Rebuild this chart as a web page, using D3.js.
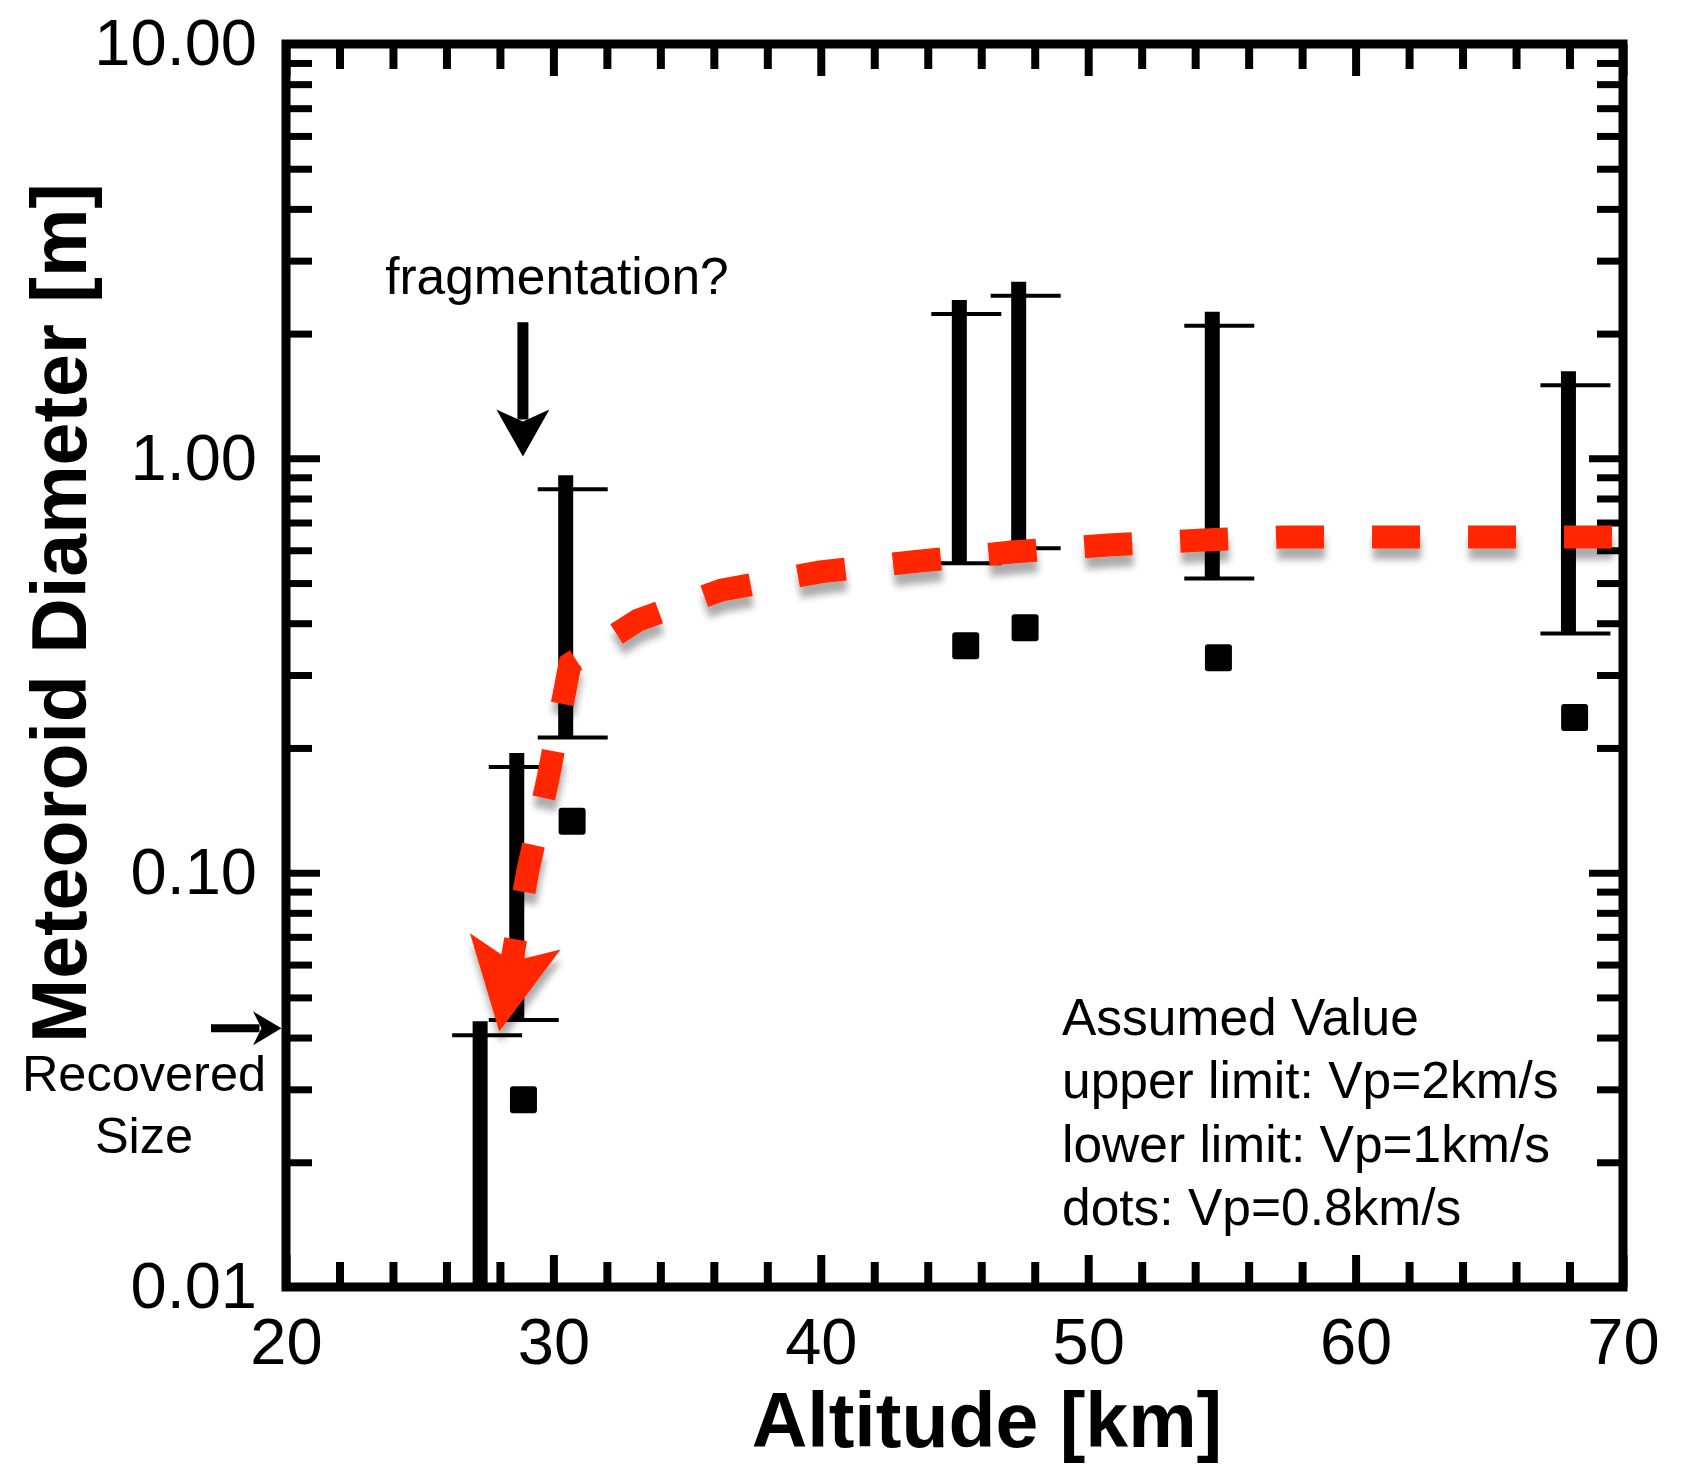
<!DOCTYPE html>
<html>
<head>
<meta charset="utf-8">
<script src="https://cdn.jsdelivr.net/npm/d3@7"></script>
<style>
  html, body { margin: 0; padding: 0; background: #fff; }
  svg { display: block; font-family: "Liberation Sans", Arial, Helvetica, sans-serif; }
</style>
</head>
<body>
<svg id="chart"></svg>
<script>
// Error-bar estimates: altitude [km], upper limit (Vp = 2 km/s) and lower limit (Vp = 1 km/s) [m]
const barAltitude = [27.26, 28.63, 30.46, 45.18, 47.40, 54.64, 67.96];
const upperLimit  = [0.0405, 0.180, 0.842, 2.23, 2.47, 2.09, 1.50];
const lowerLimit  = [0.005, 0.0441, 0.212, 0.558, 0.607, 0.513, 0.378];

// Point estimates for Vp = 0.8 km/s
const dotAltitude = [28.88, 30.70, 45.42, 47.64, 54.87, 68.19];
const dotDiameter = [0.0283, 0.133, 0.353, 0.390, 0.330, 0.237];

// Red dashed trend (ablation / fragmentation path)
const trendAltitude = [28.44, 29.04, 29.81, 30.62, 33.17, 36.29, 39.99, 43.67, 47.15, 50.74, 54.33, 57.28, 69.59];
const trendDiameter = [0.061, 0.1007, 0.170, 0.319, 0.407, 0.481, 0.532, 0.565, 0.594, 0.618, 0.635, 0.646, 0.646];

// Axis ticks
const xMajorTicks = [20, 30, 40, 50, 60, 70];
const xMinorTicks = [22, 24, 26, 28, 32, 34, 36, 38, 42, 44, 46, 48, 52, 54, 56, 58, 62, 64, 66, 68];
const yMajorTicks = [0.01, 0.1, 1, 10];
const yMinorTicks = [2, 3, 4, 5, 6, 7, 8, 9].flatMap(m => [m * 0.01, m * 0.1, m * 1]);

// Annotations
const recoveredSize = 0.0421;            // [m]
const fragmentationAltitude = 28.86;     // [km]
const fragmentationArrow = [2.13, 1.01]; // shaft top, tip [m]
const legendLines = [
  "Assumed Value",
  "upper limit: Vp=2km/s",
  "lower limit: Vp=1km/s",
  "dots: Vp=0.8km/s"
];

const W = 1682, H = 1472;
const plot = { left: 286, right: 1623, top: 44, bottom: 1287 };
const RED = "#ff2600";

const svg = d3.select("#chart").attr("width", W).attr("height", H)
  .attr("viewBox", `0 0 ${W} ${H}`);

const defs = svg.append("defs");
defs.append("clipPath").attr("id", "plotClip")
  .append("rect")
  .attr("x", plot.left).attr("y", plot.top)
  .attr("width", plot.right - plot.left).attr("height", plot.bottom - plot.top);
defs.append("filter").attr("id", "shadow")
  .attr("x", "-10%").attr("y", "-10%").attr("width", "120%").attr("height", "130%")
  .append("feDropShadow")
  .attr("dx", 1).attr("dy", 11).attr("stdDeviation", 3.5)
  .attr("flood-color", "#000").attr("flood-opacity", 0.33);

const x = d3.scaleLinear().domain([20, 70]).range([plot.left, plot.right]);
const y = d3.scaleLog().domain([0.01, 10]).range([plot.bottom, plot.top]);

// ---- axes: ticks pointing inward on all four sides ----
function styleAxis(g, width) {
  g.select(".domain").remove();
  g.selectAll(".tick line").attr("stroke", "#000").attr("stroke-width", width);
  g.attr("font-family", null).attr("font-size", null);
  g.selectAll("text").attr("fill", "#000")
    .style("font-family", '"Liberation Sans", Arial, Helvetica, sans-serif')
    .style("font-size", "65px");
}

// bottom
svg.append("g").attr("transform", `translate(0,${plot.bottom})`)
  .call(d3.axisBottom(x).tickValues(xMinorTicks).tickSize(-25).tickFormat(""))
  .call(g => styleAxis(g, 8));
svg.append("g").attr("transform", `translate(0,${plot.bottom})`)
  .call(d3.axisBottom(x).tickValues(xMajorTicks).tickSize(-32).tickPadding(31).tickFormat(d3.format("d")))
  .call(g => styleAxis(g, 8));
// top
svg.append("g").attr("transform", `translate(0,${plot.top})`)
  .call(d3.axisTop(x).tickValues(xMinorTicks).tickSize(-25).tickFormat(""))
  .call(g => styleAxis(g, 8));
svg.append("g").attr("transform", `translate(0,${plot.top})`)
  .call(d3.axisTop(x).tickValues(xMajorTicks).tickSize(-32).tickFormat(""))
  .call(g => styleAxis(g, 8));
// left
svg.append("g").attr("transform", `translate(${plot.left},0)`)
  .call(d3.axisLeft(y).tickValues(yMinorTicks).tickSize(-26).tickFormat(""))
  .call(g => styleAxis(g, 7));
svg.append("g").attr("transform", `translate(${plot.left},0)`)
  .call(d3.axisLeft(y).tickValues(yMajorTicks).tickSize(-34).tickPadding(29).tickFormat(d3.format(".2f")))
  .call(g => styleAxis(g, 7));
// right
svg.append("g").attr("transform", `translate(${plot.right},0)`)
  .call(d3.axisRight(y).tickValues(yMinorTicks).tickSize(-26).tickFormat(""))
  .call(g => styleAxis(g, 7));
svg.append("g").attr("transform", `translate(${plot.right},0)`)
  .call(d3.axisRight(y).tickValues(yMajorTicks).tickSize(-34).tickFormat(""))
  .call(g => styleAxis(g, 7));

// ---- error bars ----
const bars = barAltitude.map((a, i) => ({ a, hi: upperLimit[i], lo: lowerLimit[i] }));
const barG = svg.append("g").attr("clip-path", "url(#plotClip)");
barG.selectAll("line.bar").data(bars).join("line").attr("class", "bar")
  .attr("x1", d => x(d.a)).attr("x2", d => x(d.a))
  .attr("y1", d => y(d.lo)).attr("y2", d => y(d.hi) - 14)
  .attr("stroke", "#000").attr("stroke-width", 15);
["hi", "lo"].forEach(k => {
  barG.selectAll(`line.cap-${k}`).data(bars).join("line").attr("class", `cap-${k}`)
    .attr("x1", d => x(d.a) + 7 - 35).attr("x2", d => x(d.a) + 7 + 35)
    .attr("y1", d => y(d[k])).attr("y2", d => y(d[k]))
    .attr("stroke", "#000").attr("stroke-width", 4);
});

// ---- dots ----
const dots = dotAltitude.map((a, i) => ({ a, v: dotDiameter[i] }));
svg.append("g").selectAll("rect").data(dots).join("rect")
  .attr("x", d => x(d.a) - 13.5).attr("y", d => y(d.v) - 13.5)
  .attr("width", 27).attr("height", 27).attr("rx", 3)
  .attr("fill", "#000");

// ---- frame ----
svg.append("rect")
  .attr("x", plot.left).attr("y", plot.top)
  .attr("width", plot.right - plot.left).attr("height", plot.bottom - plot.top)
  .attr("fill", "none").attr("stroke", "#000").attr("stroke-width", 9);

// ---- red dashed trend with arrowhead ----
const trend = trendAltitude.map((a, i) => [x(a), y(trendDiameter[i])]);
const trendG = svg.append("g").attr("filter", "url(#shadow)");
const trendPath = trendG.append("path")
  .attr("d", d3.line().curve(d3.curveLinear)(trend))
  .attr("fill", "none").attr("stroke", RED).attr("stroke-width", 23)
  .attr("stroke-linecap", "butt").attr("stroke-linejoin", "miter");
const L = trendPath.node().getTotalLength();
trendPath.attr("stroke-dasharray", "48 48")
  .attr("stroke-dashoffset", ((48 - L) % 96 + 96) % 96);

// arrowhead oriented along the first segment, its notch on the start point
(function () {
  const [p0, p1] = trend;
  const len = Math.hypot(p0[0] - p1[0], p0[1] - p1[1]);
  const u = [(p0[0] - p1[0]) / len, (p0[1] - p1[1]) / len]; // direction of travel
  const n = [-u[1], u[0]];
  const tip = [p0[0] + u[0] * 71, p0[1] + u[1] * 71];
  const pt = (back, side) => [tip[0] - u[0] * back + n[0] * side, tip[1] - u[1] * back + n[1] * side];
  trendG.append("path")
    .attr("d", d3.line()([tip, pt(91.5, -46), pt(71, 0), pt(91.5, 46)]) + "Z")
    .attr("fill", RED);
})();

// ---- annotation arrows ----
function blackArrow(from, to, shaftW, headLen, headHalf, notch) {
  const len = Math.hypot(to[0] - from[0], to[1] - from[1]);
  const u = [(to[0] - from[0]) / len, (to[1] - from[1]) / len];
  const n = [-u[1], u[0]];
  const pt = (back, side) => [to[0] - u[0] * back + n[0] * side, to[1] - u[1] * back + n[1] * side];
  svg.append("line")
    .attr("x1", from[0]).attr("y1", from[1])
    .attr("x2", pt(notch + 2, 0)[0]).attr("y2", pt(notch + 2, 0)[1])
    .attr("stroke", "#000").attr("stroke-width", shaftW);
  svg.append("path")
    .attr("d", d3.line()([to, pt(headLen, -headHalf), pt(notch, 0), pt(headLen, headHalf)]) + "Z")
    .attr("fill", "#000");
}

// fragmentation?
const fx = x(fragmentationAltitude);
blackArrow([fx, y(fragmentationArrow[0])], [fx, y(fragmentationArrow[1])], 11, 47, 26.5, 35);
svg.append("text")
  .attr("x", fx + 34).attr("y", y(fragmentationArrow[0]) - 28)
  .attr("text-anchor", "middle").attr("font-size", 51.5)
  .text("fragmentation?");

// recovered size
const ry = y(recoveredSize);
blackArrow([211, ry], [plot.left - 4.5, ry], 8, 28.5, 17, 20);
svg.append("text").attr("x", 144).attr("y", ry + 63)
  .attr("text-anchor", "middle").attr("font-size", 50.5).text("Recovered");
svg.append("text").attr("x", 144).attr("y", ry + 125)
  .attr("text-anchor", "middle").attr("font-size", 50.5).text("Size");

// ---- legend text ----
svg.append("g").selectAll("text").data(legendLines).join("text")
  .attr("x", 1062).attr("y", (d, i) => 1035 + i * 63.3)
  .attr("font-size", 51.5).text(d => d);

// ---- axis titles ----
svg.append("text")
  .attr("transform", "translate(86,613) rotate(-90)")
  .attr("text-anchor", "middle").attr("font-size", 77).attr("font-weight", "bold")
  .text("Meteoroid Diameter [m]");
svg.append("text")
  .attr("x", 987).attr("y", 1447)
  .attr("text-anchor", "middle").attr("font-size", 77).attr("font-weight", "bold")
  .text("Altitude [km]");
</script>
</body>
</html>
